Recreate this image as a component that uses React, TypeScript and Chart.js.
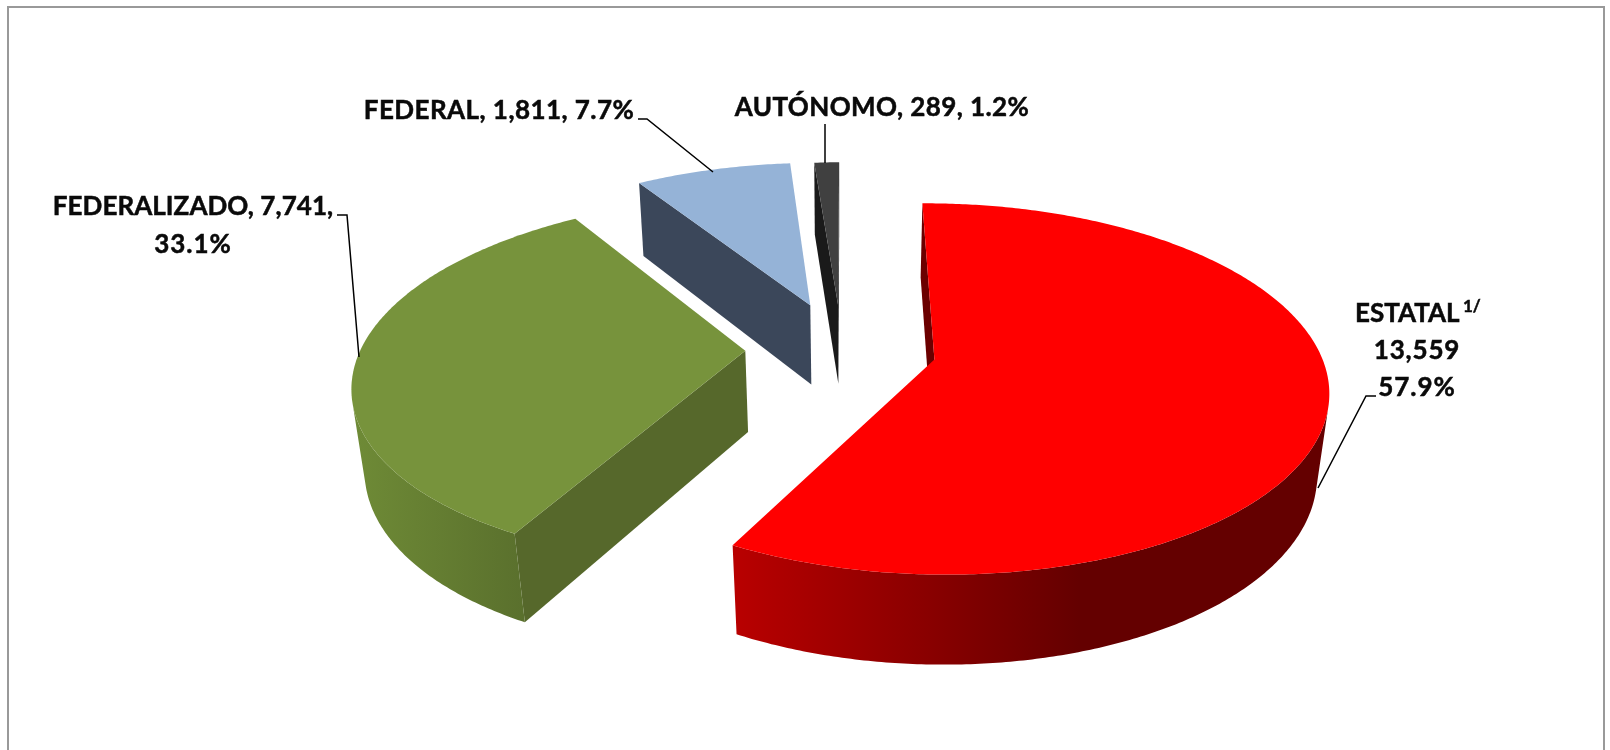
import React, { useEffect, useRef } from "react";
import { Chart, registerables } from "chart.js";

Chart.register(...registerables);

const categories = ["ESTATAL", "FEDERALIZADO", "FEDERAL", "AUTÓNOMO"];
const values = [13559, 7741, 1811, 289];
const explosions = [24.7, 25, 27, 26];
const topColors = ["#FF0000", "#77933C", "#95B3D7", "#404040"];
const faceColors = ["#6B0000", "#56682B", "#3B475A", "#1A1A1A"];
const wallStops = [
  [["#B80000", 737], ["#640000", 1079]],
  [["#6E8A36", 358], ["#5A702D", 524]],
  [["#3B475A", 640], ["#3B475A", 800]],
  [["#1A1A1A", 810], ["#1A1A1A", 840]],
];
const labelLines = [
  ["13,559", "57.9%"],
  ["FEDERALIZADO, 7,741,", "33.1%"],
  ["FEDERAL, 1,811, 7.7%"],
  ["AUTÓNOMO, 289, 1.2%"],
];

// Camera of the tilted pie: maps unit-disc coordinates to the page.
const cam = { ox: 935, oy: 359, a: 388, b: 180.8, s: 10, p: 0.159, r: 0.026, f: 83.6, g: -2, cu: -0.2415, cv: -0.056 };

function project(m: number, n: number, z: number) {
  const u = m + cam.cu;
  const v = n + cam.cv;
  const w = 1 - cam.p * v + cam.r * z;
  return { x: cam.ox + (cam.a * u + cam.s * v) / w + cam.g * z, y: cam.oy + (cam.b * v + cam.f * z) / w };
}

type P = { x: number; y: number };
function poly(ctx: CanvasRenderingContext2D, pts: P[]) {
  ctx.beginPath();
  pts.forEach((q, i) => (i ? ctx.lineTo(q.x, q.y) : ctx.moveTo(q.x, q.y)));
  ctx.closePath();
}
function area(pts: P[]) {
  let t = 0;
  pts.forEach((q, i) => {
    const e = pts[(i + 1) % pts.length];
    t += q.x * e.y - e.x * q.y;
  });
  return t;
}

const pie3d = {
  id: "pie3d",
  beforeDatasetsDraw(chart: any) {
    const ctx: CanvasRenderingContext2D = chart.ctx;
    const arcs = chart.getDatasetMeta(0).data;
    for (let i = arcs.length - 1; i >= 0; i--) {
      const arc = arcs[i];
      const { startAngle, endAngle, outerRadius } = arc.getProps(["startAngle", "endAngle", "outerRadius"], true);
      const mid = (startAngle + endAngle) / 2;
      const e = arc.options.offset / outerRadius;
      const am = e * Math.cos(mid);
      const an = e * Math.sin(mid);
      const steps = Math.max(4, Math.ceil((endAngle - startAngle) / 0.01));
      const rimTop: P[] = [];
      const rimBot: P[] = [];
      for (let k = 0; k <= steps; k++) {
        const t = startAngle + ((endAngle - startAngle) * k) / steps;
        rimTop.push(project(am + Math.cos(t), an + Math.sin(t), 0));
        rimBot.push(project(am + Math.cos(t), an + Math.sin(t), 1));
      }
      const apexTop = project(am, an, 0);
      const apexBot = project(am, an, 1);

      ctx.fillStyle = faceColors[i];
      const faces = [
        [apexTop, rimTop[0], rimBot[0], apexBot],
        [rimTop[steps], apexTop, apexBot, rimBot[steps]],
      ];
      faces.forEach((q) => {
        if (area(q) < 0) {
          poly(ctx, q);
          ctx.fill();
        }
      });

      // Outer wall: each run of front-facing segments is filled as one polygon.
      const stops = wallStops[i] as [string, number][];
      const grad = ctx.createLinearGradient(stops[0][1], 0, stops[1][1], 0);
      grad.addColorStop(0, stops[0][0]);
      grad.addColorStop(1, stops[1][0]);
      ctx.fillStyle = grad;
      let k = 0;
      while (k < steps) {
        if (area([rimTop[k], rimTop[k + 1], rimBot[k + 1], rimBot[k]]) >= 0) {
          k++;
          continue;
        }
        let j = k;
        while (j < steps && area([rimTop[j], rimTop[j + 1], rimBot[j + 1], rimBot[j]]) < 0) j++;
        poly(ctx, [...rimTop.slice(k, j + 1), ...rimBot.slice(k, j + 1).reverse()]);
        ctx.fill();
        k = j;
      }

      ctx.fillStyle = arc.options.backgroundColor;
      poly(ctx, [apexTop, ...rimTop]);
      ctx.fill();
    }
    return false;
  },
  afterDraw(chart: any) {
    const ctx: any = chart.ctx;
    ctx.save();
    ctx.strokeStyle = "#999999";
    ctx.lineWidth = 2;
    ctx.beginPath();
    ctx.moveTo(8, 760);
    ctx.lineTo(8, 7);
    ctx.lineTo(1604, 7);
    ctx.lineTo(1604, 760);
    ctx.stroke();

    ctx.strokeStyle = "#000000";
    ctx.lineWidth = 1.5;
    const leaders: [number, number][][] = [
      [[1376, 396], [1366, 396], [1318, 488]],
      [[337, 215], [347, 215], [359, 357]],
      [[638, 119], [647, 119], [713, 172]],
      [[825, 124], [825, 163]],
    ];
    leaders.forEach((l) => {
      ctx.beginPath();
      l.forEach(([x, y], i) => (i ? ctx.lineTo(x, y) : ctx.moveTo(x, y)));
      ctx.stroke();
    });

    ctx.fillStyle = "#0A0A0A";
    ctx.strokeStyle = "#0A0A0A";
    ctx.lineWidth = 0.5;
    ctx.textBaseline = "alphabetic";
    const put = (t: string, x: number, y: number, align: CanvasTextAlign, size: number, spacing: number) => {
      ctx.font = `bold ${size}px Lato`;
      ctx.letterSpacing = `${spacing}px`;
      ctx.textAlign = align;
      ctx.fillText(t, x, y);
      ctx.strokeText(t, x, y);
    };
    put(categories[0], 1355, 322, "left", 26, 0);
    put("1/", 1463, 312, "left", 17, 0);
    put(labelLines[0][0], 1417, 359, "center", 26, 0.85);
    put(labelLines[0][1], 1417, 396, "center", 26, 1);
    put(labelLines[1][0], 193, 215, "center", 26, 0.05);
    put(labelLines[1][1], 193, 253, "center", 26, 1);
    put(labelLines[2][0], 499, 119, "center", 26, 0.45);
    put(labelLines[3][0], 882, 116, "center", 26, 0.42);
    ctx.restore();
  },
};

export default function App() {
  const ref = useRef<HTMLCanvasElement>(null);
  useEffect(() => {
    const chart = new Chart(ref.current!, {
      type: "pie",
      data: {
        labels: categories,
        datasets: [{ data: values, backgroundColor: topColors, offset: explosions, borderWidth: 0 }],
      },
      options: {
        animation: false,
        responsive: false,
        rotation: -0.6,
        radius: 100,
        plugins: { legend: { display: false }, tooltip: { enabled: false } },
      },
      plugins: [pie3d],
    } as any);
    return () => chart.destroy();
  }, []);
  return (
    <canvas
      ref={ref}
      width={1610}
      height={750}
      style={{ position: "absolute", left: 0, top: 0, width: 1610, height: 750, background: "#fff" }}
    />
  );
}
